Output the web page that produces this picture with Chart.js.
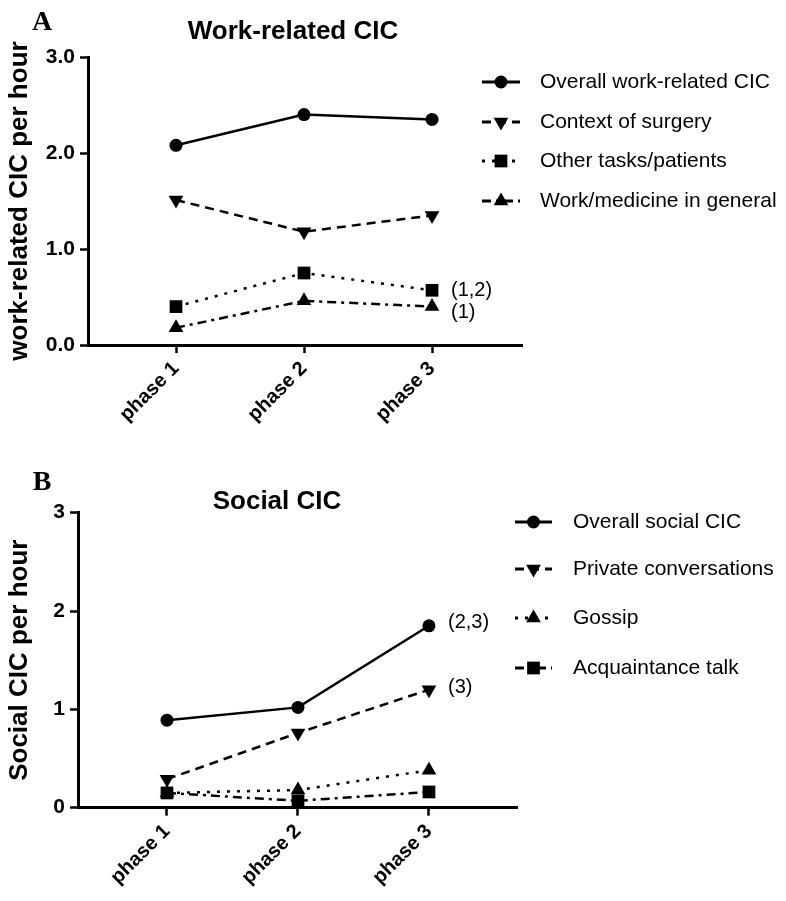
<!DOCTYPE html>
<html lang="en">
<head>
    <meta charset="UTF-8">
    <title>CIC per hour</title>
    <script src="https://cdn.jsdelivr.net/npm/chart.js"></script>
    <style>
     body { margin: 0; background: #fff; }
     .panel { position: absolute; left: 0; }
     #panelA { top: 0; }
     #panelB { top: 430px; }
    </style>
</head>
<body>
    <div class="panel" id="panelA"><canvas id="chart-work" width="786" height="430"></canvas></div>
    <div class="panel" id="panelB"><canvas id="chart-social" width="786" height="471"></canvas></div>

<script>
    // data
    const phases = ['phase 1', 'phase 2', 'phase 3'];

    const workLabels = ['Overall work-related CIC', 'Context of surgery', 'Other tasks/patients', 'Work/medicine in general'];
    const overallWork = [2.08, 2.40, 2.35];
    const surgeryContext = [1.51, 1.18, 1.35];
    const otherTasks = [0.40, 0.75, 0.57];
    const workMedicine = [0.18, 0.46, 0.40];
    const workNotes = ['', '', '(1,2)', '(1)'];

    const socialLabels = ['Overall social CIC', 'Private conversations', 'Gossip', 'Acquaintance talk'];
    const overallSocial = [0.89, 1.02, 1.85];
    const privateConv = [0.29, 0.76, 1.20];
    const gossip = [0.15, 0.18, 0.38];
    const acquaintance = [0.15, 0.07, 0.16];
    const socialNotes = ['(2,3)', '(3)', '', ''];

    const yTicksWork = ['0.0', '1.0', '2.0', '3.0'];
    const yTicksSocial = ['0', '1', '2', '3'];

    Chart.defaults.font.family = '"Liberation Sans", Arial, sans-serif';
    Chart.defaults.color = '#000';

    // line styles: solid, dashed, dotted, dash-dot
    const styles = {
        circle: { pointStyle: 'circle', pointRadius: 6.5, rotation: 0 },
        down: { pointStyle: 'triangle', pointRadius: 8.5, rotation: 180 },
        up: { pointStyle: 'triangle', pointRadius: 8.5, rotation: 0 },
        square: { pointStyle: 'rect', pointRadius: 9, rotation: 0 }
    };
    const dashes = { solid: [], dashed: [9, 6], dotted: [3, 7], dashdot: [9, 5, 3, 5] };

    function makeSet(label, values, marker, dash, note) {
        const m = styles[marker];
        return {
            label: label,
            data: values.map((v, i) => ({ x: i + 1, y: v })),
            borderColor: '#000',
            backgroundColor: '#000',
            borderWidth: 2.5,
            borderDash: dashes[dash],
            pointStyle: m.pointStyle,
            pointRadius: m.pointRadius,
            pointRotation: m.rotation,
            pointBorderWidth: 0,
            pointBackgroundColor: '#000',
            clip: false,
            note: note
        };
    }

    // manual drawing: titles, panel letter, legend with line + marker, notes
    const panelText = {
        id: 'panelText',
        afterDraw(chart, args, opts) {
            const ctx = chart.ctx;
            ctx.save();
            ctx.fillStyle = '#000';
            ctx.textBaseline = 'middle';

            ctx.font = 'bold 28px "Liberation Serif", "Times New Roman", serif';
            ctx.textAlign = 'center';
            ctx.fillText(opts.letter, opts.letterX, opts.letterY);

            ctx.font = 'bold 26px "Liberation Sans", Arial, sans-serif';
            ctx.fillText(opts.title, opts.titleX, opts.titleY);

            ctx.textAlign = 'left';
            chart.data.datasets.forEach((ds, i) => {
                const y = opts.rows[i];
                ctx.save();
                ctx.strokeStyle = '#000';
                ctx.lineWidth = 3;
                ctx.setLineDash(ds.borderDash);
                ctx.beginPath();
                ctx.moveTo(opts.legendX0, y);
                ctx.lineTo(opts.legendX1, y);
                ctx.stroke();
                ctx.setLineDash([]);
                ctx.fillStyle = '#000';
                Chart.helpers.drawPoint(ctx, {
                    pointStyle: ds.pointStyle,
                    radius: ds.pointRadius,
                    rotation: ds.pointRotation,
                    borderWidth: 0
                }, (opts.legendX0 + opts.legendX1) / 2, y);
                ctx.restore();

                ctx.font = '21px "Liberation Sans", Arial, sans-serif';
                ctx.fillText(ds.label, opts.textX, y);

                if (ds.note) {
                    const pt = chart.getDatasetMeta(i).data[ds.data.length - 1];
                    ctx.font = '20px "Liberation Sans", Arial, sans-serif';
                    ctx.fillText(ds.note, pt.x + 19, pt.y + (opts.noteShift[i] || 0));
                }
            });
            ctx.restore();
        }
    };

    function makeChart(id, sets, yTitle, yTicks, geo, textOpts) {
        const ctx = document.getElementById(id).getContext('2d');
        return new Chart(ctx, {
            type: 'line',
            data: { datasets: sets },
            options: {
                responsive: false,
                animation: false,
                layout: { padding: { top: geo.top, right: geo.right, left: 0, bottom: 0 } },
                plugins: {
                    legend: { display: false },
                    tooltip: { enabled: false },
                    panelText: textOpts
                },
                scales: {
                    x: {
                        type: 'linear',
                        min: geo.xMin,
                        max: geo.xMax,
                        afterBuildTicks: (scale) => { scale.ticks = phases.map((p, i) => ({ value: i + 1 })); },
                        afterFit: (scale) => { scale.height = geo.xHeight; },
                        grid: { display: true, drawOnChartArea: false, drawTicks: true, tickLength: 8, tickWidth: 2.5, tickColor: '#000' },
                        border: { display: true, color: '#000', width: 3 },
                        ticks: {
                            autoSkip: false,
                            minRotation: 45,
                            maxRotation: 45,
                            padding: 4,
                            font: { size: 20, weight: 'bold' },
                            callback: (v) => phases[v - 1]
                        }
                    },
                    y: {
                        min: 0,
                        max: 3,
                        afterFit: (scale) => { scale.width = geo.yWidth; },
                        grid: { display: true, drawOnChartArea: false, drawTicks: true, tickLength: 8, tickWidth: 2.5, tickColor: '#000' },
                        border: { display: true, color: '#000', width: 3 },
                        ticks: {
                            stepSize: 1,
                            padding: 5,
                            font: { size: 21, weight: 'bold' },
                            callback: (v) => yTicks[v]
                        },
                        title: {
                            display: true,
                            text: yTitle,
                            padding: { top: 4, bottom: 4 },
                            font: { size: 26, weight: 'bold' }
                        }
                    }
                }
            },
            plugins: [panelText]
        });
    }

    makeChart('chart-work', [
        makeSet(workLabels[0], overallWork, 'circle', 'solid', workNotes[0]),
        makeSet(workLabels[1], surgeryContext, 'down', 'dashed', workNotes[1]),
        makeSet(workLabels[2], otherTasks, 'square', 'dotted', workNotes[2]),
        makeSet(workLabels[3], workMedicine, 'up', 'dashdot', workNotes[3])
    ], 'work-related CIC per hour', yTicksWork,
    { top: 57, right: 264, xMin: 0.3125, xMax: 3.703, xHeight: 85, yWidth: 88 },
    { letter: 'A', letterX: 42, letterY: 23, title: 'Work-related CIC', titleX: 293, titleY: 32,
      legendX0: 482, legendX1: 520, textX: 540, rows: [82, 122, 161, 201], noteShift: [0, 0, 0, 6] });

    makeChart('chart-social', [
        makeSet(socialLabels[0], overallSocial, 'circle', 'solid', socialNotes[0]),
        makeSet(socialLabels[1], privateConv, 'down', 'dashed', socialNotes[1]),
        makeSet(socialLabels[2], gossip, 'up', 'dotted', socialNotes[2]),
        makeSet(socialLabels[3], acquaintance, 'square', 'dashdot', socialNotes[3])
    ], 'Social CIC per hour', yTicksSocial,
    { top: 82.7, right: 269, xMin: 0.3206, xMax: 3.672, xHeight: 93.3, yWidth: 78 },
    { letter: 'B', letterX: 42, letterY: 53, title: 'Social CIC', titleX: 277, titleY: 72,
      legendX0: 515, legendX1: 552, textX: 573, rows: [92, 139, 188, 238], noteShift: [-3, -2, 0, 0] });
</script>
</body>
</html>
